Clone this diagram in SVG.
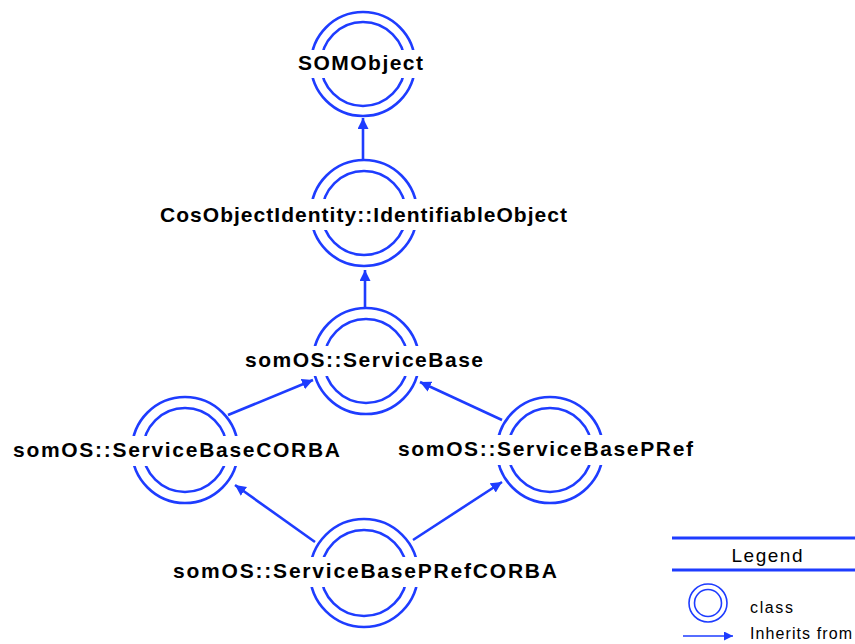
<svg xmlns="http://www.w3.org/2000/svg" width="855" height="644" viewBox="0 0 855 644">
<style>
  .ring { fill: none; stroke: #1e3cff; stroke-width: 2.6; }
  .lbl { font-family: "Liberation Sans", Arial, sans-serif; font-weight: bold; font-size: 21px; fill: #000; }
  .bg { fill: #fff; }
  .edge { stroke: #1e3cff; stroke-width: 2.6; fill: none; marker-end: url(#ah); }
  .leg { font-family: "Liberation Sans", Arial, sans-serif; font-size: 16px; fill: #000; }
  .legtitle { font-family: "Liberation Sans", Arial, sans-serif; font-size: 19px; fill: #000; }
  .legline { stroke: #1e3cff; stroke-width: 3; }
</style>
<defs>
  <marker id="ah" markerUnits="userSpaceOnUse" markerWidth="12" markerHeight="12" refX="11" refY="5.5" orient="auto">
    <path d="M0,0 L11,5.5 L0,11 z" fill="#1e3cff"/>
  </marker>
  <marker id="ahs" markerUnits="userSpaceOnUse" markerWidth="10" markerHeight="10" refX="9" refY="4.5" orient="auto">
    <path d="M0,0 L9,4.5 L0,9 z" fill="#1e3cff"/>
  </marker>
</defs>
<rect width="855" height="644" fill="#fff"/>

<g id="connectors">
  <line class="edge" x1="363" y1="160" x2="363" y2="118"/>
  <line class="edge" x1="365" y1="308" x2="365" y2="270"/>
  <line class="edge" x1="228" y1="415" x2="313" y2="380"/>
  <line class="edge" x1="502" y1="420" x2="420" y2="382"/>
  <line class="edge" x1="315" y1="542" x2="235" y2="485"/>
  <line class="edge" x1="413" y1="540" x2="502" y2="482"/>
</g>

<g id="SOMObject">
  <circle class="ring" cx="363" cy="64" r="52"/>
  <circle class="ring" cx="363" cy="64" r="42"/>
  <rect class="bg" x="296" y="50" width="130" height="28"/>
  <text class="lbl" x="298" y="70" textLength="125" lengthAdjust="spacing">SOMObject</text>
</g>

<g id="IdentifiableObject">
  <circle class="ring" cx="364" cy="213" r="53"/>
  <circle class="ring" cx="364" cy="213" r="42"/>
  <rect class="bg" x="158" y="199" width="412" height="31"/>
  <text class="lbl" x="160" y="222" textLength="407" lengthAdjust="spacing">CosObjectIdentity::IdentifiableObject</text>
</g>

<g id="ServiceBase">
  <circle class="ring" cx="366" cy="361" r="53"/>
  <circle class="ring" cx="366" cy="361" r="42"/>
  <rect class="bg" x="243" y="346" width="243" height="30"/>
  <text class="lbl" x="245" y="367" textLength="238" lengthAdjust="spacing">somOS::ServiceBase</text>
</g>

<g id="ServiceBaseCORBA">
  <circle class="ring" cx="185" cy="450" r="53"/>
  <circle class="ring" cx="185" cy="450" r="42"/>
  <rect class="bg" x="11" y="436" width="332" height="30"/>
  <text class="lbl" x="13" y="457" textLength="327" lengthAdjust="spacing">somOS::ServiceBaseCORBA</text>
</g>

<g id="ServiceBasePRef">
  <circle class="ring" cx="550" cy="450" r="53"/>
  <circle class="ring" cx="550" cy="450" r="42"/>
  <rect class="bg" x="396" y="435" width="300" height="30"/>
  <text class="lbl" x="398" y="456" textLength="295" lengthAdjust="spacing">somOS::ServiceBasePRef</text>
</g>

<g id="ServiceBasePRefCORBA">
  <circle class="ring" cx="364" cy="573" r="54"/>
  <circle class="ring" cx="364" cy="573" r="43"/>
  <rect class="bg" x="171" y="557" width="389" height="30"/>
  <text class="lbl" x="173" y="578" textLength="384" lengthAdjust="spacing">somOS::ServiceBasePRefCORBA</text>
</g>

<g id="legend">
  <line class="legline" x1="672" y1="538" x2="855" y2="538"/>
  <line class="legline" x1="672" y1="570" x2="855" y2="570"/>
  <text class="legtitle" x="767" y="562" text-anchor="middle" textLength="71" lengthAdjust="spacing">Legend</text>
  <circle cx="708" cy="603" r="19" fill="none" stroke="#1e3cff" stroke-width="1.6"/>
  <circle cx="708" cy="603" r="13.5" fill="none" stroke="#1e3cff" stroke-width="1.6"/>
  <text class="leg" x="750" y="613" textLength="43" lengthAdjust="spacing">class</text>
  <line x1="683" y1="636" x2="733" y2="636" stroke="#1e3cff" stroke-width="1.6" marker-end="url(#ahs)"/>
  <text class="leg" x="750" y="639" textLength="102" lengthAdjust="spacing">Inherits from</text>
</g>
</svg>
